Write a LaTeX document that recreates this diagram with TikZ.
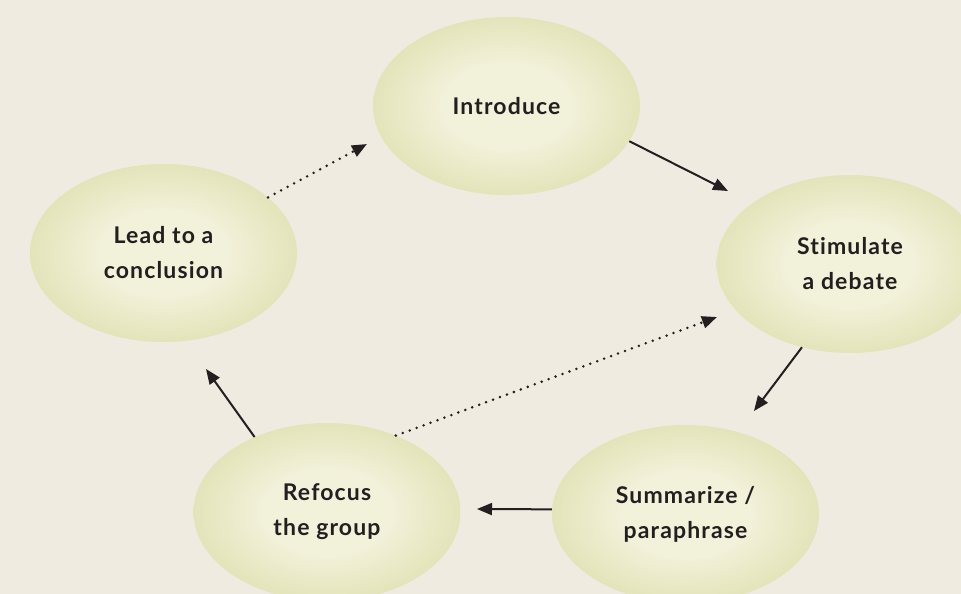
\documentclass[tikz,border=0pt]{standalone}
\usepackage{fontspec}
\setmainfont{Lato}[LetterSpace=5,Ligatures={NoCommon}]
\usetikzlibrary{shapes.geometric,arrows.meta}
\definecolor{bgc}{HTML}{EFEBE1}
\definecolor{ellc}{HTML}{D9DBA3}
\definecolor{glowc}{HTML}{F2F1DA}
\definecolor{inkc}{HTML}{231F20}
\pgfdeclareradialshading{nodeglow}{\pgfpoint{0bp}{0bp}}{color(0bp)=(glowc); color(12bp)=(glowc); color(34bp)=(ellc); color(50bp)=(ellc)}
\tikzset{
  stage/.style={ellipse, draw=none, shading=nodeglow, inner sep=0pt,
    minimum width=267pt, minimum height=178pt, align=center,
    text=inkc, font=\fontsize{23}{35}\selectfont\bfseries},
  flow/.style={draw=inkc, line width=2pt, -{Triangle[length=15pt,width=12pt]}},
  dotflow/.style={draw=inkc, line width=2.8pt, line cap=round,
    dash pattern=on 0pt off 7.4pt, -{Triangle[length=15pt,width=12pt]}},
}
\begin{document}
\begin{tikzpicture}[x=1pt,y=-1pt]
\fill[bgc] (0,0) rectangle (961,594);
\useasboundingbox (0,0) rectangle (961,594);
\begin{scope}
\clip (0,0) rectangle (961,594);
\node[stage] (intro) at (506.5,106) {Introduce};
\node[stage] (lead) at (163.5,253) {Lead to a\\conclusion};
\node[stage] (stim) at (850,264) {Stimulate\\a debate};
\node[stage] (summ) at (685.5,514) {Summarize /\\paraphrase};
\node[stage] (ref) at (327,512) {Refocus\\the group};
\end{scope}
\coordinate (e1) at (728,191);
\coordinate (e2) at (754,411);
\coordinate (e3) at (477,509);
\coordinate (e4) at (206,369);
\coordinate (e5) at (367,144);
\coordinate (e6) at (717,317);
\draw[flow] (intro.-16.8) -- (e1);
\draw[flow] (stim.-120) -- (e2);
\draw[flow] (summ.178) -- (e3);
\draw[flow] (ref.134) -- (e4);
\draw[dotflow] (lead.28) -- (e5);
\draw[dotflow] (ref.48.5) -- (e6);
\end{tikzpicture}
\end{document}
